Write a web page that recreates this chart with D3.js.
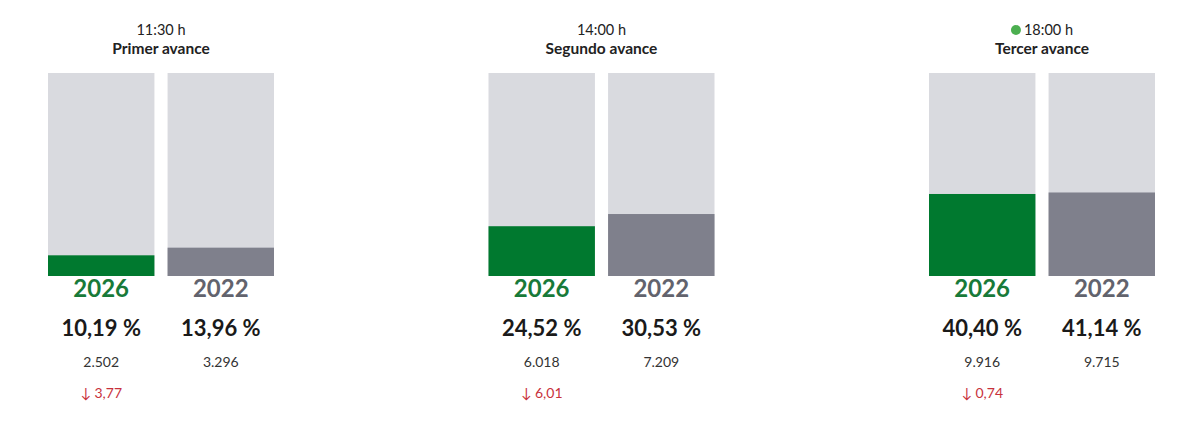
<!DOCTYPE html>
<html><head><meta charset="utf-8">
<script src="https://cdn.jsdelivr.net/npm/d3@7"></script>
<style>
html,body{margin:0;padding:0;background:#fff;}
svg{display:block;font-family:Lato, "Noto Sans", sans-serif;}
</style></head>
<body>
<svg id="chart" width="1197" height="427"></svg>
<script>
const groups = ["Primer avance", "Segundo avance", "Tercer avance"];
const times = ["11:30 h", "14:00 h", "18:00 h"];
const live = [false, false, true];
const years = ["2026", "2022"];
const pct2026 = [10.19, 24.52, 40.40];
const pct2022 = [13.96, 30.53, 41.14];
const votes2026 = [2502, 6018, 9916];
const votes2022 = [3296, 7209, 9715];
const diffs = [3.77, 6.01, 0.74];

const svg = d3.select("#chart");
const x0 = d3.scaleBand().domain(groups).range([48, 48 + 3 * 440.5]);
const x1 = d3.scaleBand().domain(years).range([0, 226]).paddingInner(0.11);
const y = d3.scaleLinear().domain([0, 100]).range([276, 73]);
const colors = {"2026": "#00792f", "2022": "#7f808c"};
const labelColors = {"2026": "#187a39", "2022": "#62636d"};
const fmtPct = v => d3.format(".2f")(v).replace(".", ",") + " %";
const fmtInt = v => d3.format(",")(v).replace(/,/g, ".");

groups.forEach((g, i) => {
  const gx = x0(g);
  const gEl = svg.append("g").attr("transform", `translate(${gx},0)`);
  const cx = 113;
  const t = gEl.append("text").attr("x", cx).attr("y", 35).attr("text-anchor", "middle")
    .attr("font-size", 14.5).attr("fill", "#222").text(times[i]);
  if (live[i]) {
    const w = t.node().getComputedTextLength();
    const dotR = 5, gap = 3;
    const total = w + dotR * 2 + gap;
    const start = cx - total / 2;
    t.attr("text-anchor", "start").attr("x", start + dotR * 2 + gap);
    gEl.append("circle").attr("cx", start + dotR).attr("cy", 30).attr("r", dotR).attr("fill", "#4caf50");
  }
  gEl.append("text").attr("x", cx).attr("y", 54).attr("text-anchor", "middle")
    .attr("font-size", 15.5).attr("font-weight", "bold").attr("fill", "#222").text(g);

  const vals = {"2026": pct2026[i], "2022": pct2022[i]};
  const votes = {"2026": votes2026[i], "2022": votes2022[i]};
  years.forEach(yr => {
    const bx = x1(yr), bw = x1.bandwidth();
    gEl.append("rect").attr("x", bx).attr("y", y(100)).attr("width", bw).attr("height", y(0) - y(100)).attr("fill", "#d9dadf");
    gEl.append("rect").attr("x", bx).attr("y", y(vals[yr])).attr("width", bw).attr("height", y(0) - y(vals[yr])).attr("fill", colors[yr]);
    const mx = bx + bw / 2;
    gEl.append("text").attr("x", mx).attr("y", 297).attr("text-anchor", "middle")
      .attr("font-size", 24).attr("font-weight", "bold").attr("fill", labelColors[yr]).text(yr);
    gEl.append("text").attr("x", mx).attr("y", 336).attr("text-anchor", "middle")
      .attr("font-size", 22).attr("font-weight", "bold").attr("fill", "#1a1a1a").text(fmtPct(vals[yr]));
    gEl.append("text").attr("x", mx).attr("y", 367).attr("text-anchor", "middle")
      .attr("font-size", 14).attr("fill", "#333").text(fmtInt(votes[yr]));
    if (yr === "2026") {
      gEl.append("text").attr("x", mx).attr("y", 398).attr("text-anchor", "middle")
        .attr("font-size", 14).attr("fill", "#c8313c").text("↓ " + d3.format(".2f")(diffs[i]).replace(".", ","));
    }
  });
});
</script>
</body></html>
